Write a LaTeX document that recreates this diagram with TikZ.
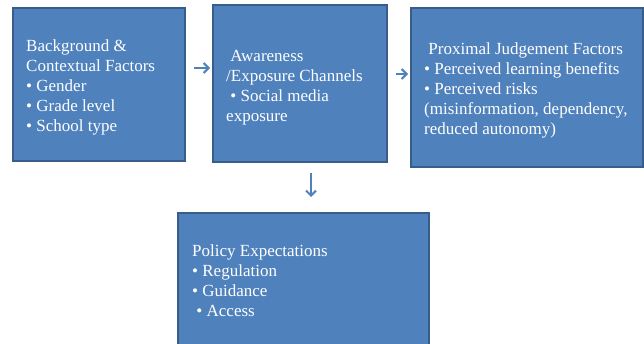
\documentclass[tikz,border=0pt]{standalone}
\usepackage{fontspec}
\setmainfont{Liberation Serif}
\usetikzlibrary{arrows.meta}
\definecolor{boxfill}{HTML}{4F81BD}
\definecolor{boxline}{HTML}{385D8A}
\tikzset{
  box/.style={draw=boxline, fill=boxfill, line width=2pt, inner sep=0pt},
  txt/.style={text=white, align=left, inner sep=0pt, anchor=north west,
    font=\fontsize{17pt}{20pt}\selectfont},
  arr/.style={draw=boxfill, line width=2pt, -{Straight Barb[length=5pt,width=10pt,line width=2pt]}}
}
\begin{document}
\begin{tikzpicture}[x=1pt,y=1pt]
\useasboundingbox (0,0) rectangle (644,-344);
\node[box, minimum width=172pt, minimum height=153pt] (b1) at (99,-84.5) {};
\node[box, minimum width=174pt, minimum height=157pt] (b2) at (300,-83.5) {};
\node[box, minimum width=232pt, minimum height=159pt] (b3) at (527,-87.5) {};
\node[box, minimum width=251pt, minimum height=150pt] (b4) at (303.5,-288) {};
\node[txt] (t1) at (26,-40) {Background \&\\Contextual Factors\\\textbullet{} Gender\\\textbullet{} Grade level\\\textbullet{} School type};
\node[txt] (t2) at (226,-50) {\ Awareness\\/Exposure Channels\\\ \textbullet{} Social media\\exposure};
\node[txt] (t3) at (424,-43) {\ Proximal Judgement Factors\\\textbullet{} Perceived learning benefits\\\textbullet{} Perceived risks\\(misinformation, dependency,\\reduced autonomy)};
\node[txt] (t4) at (192,-245) {Policy Expectations\\\textbullet{} Regulation\\\textbullet{} Guidance\\\ \textbullet{} Access};
\draw[arr, shorten <=8pt, shorten >=2pt] (b1.east |- 0,-68) -- (b2.west |- 0,-68);
\draw[arr, shorten <=8pt, shorten >=2pt] (b2.east |- 0,-74) -- (b3.west |- 0,-74);
\draw[arr, shorten <=10pt, shorten >=15pt] ([xshift=11pt]b2.south) -- ([xshift=11pt]b2.south |- b4.north);
\end{tikzpicture}
\end{document}
